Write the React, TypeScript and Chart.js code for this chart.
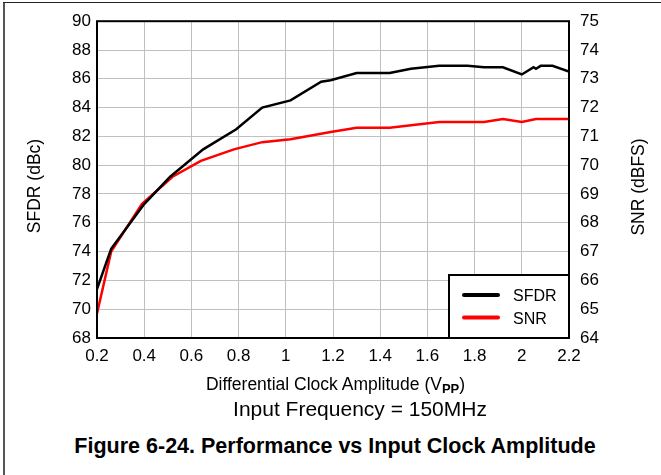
import React, { useEffect, useRef } from "react";
import { Chart, registerables } from "chart.js";

Chart.register(...registerables);

// ---- Data ----
const sfdrAmplitude = [0.2, 0.26, 0.4, 0.51, 0.65, 0.79, 0.9, 1.02, 1.15, 1.19, 1.3, 1.44, 1.53, 1.65, 1.77, 1.84, 1.92, 2.0, 2.05, 2.06, 2.08, 2.13, 2.2];
const sfdrValues = [71.4, 74.2, 77.3, 79.2, 81.1, 82.5, 84.0, 84.5, 85.8, 85.9, 86.4, 86.4, 86.7, 86.9, 86.9, 86.8, 86.8, 86.3, 86.8, 86.7, 86.9, 86.9, 86.5];
const snrAmplitude = [0.2, 0.26, 0.39, 0.52, 0.64, 0.78, 0.9, 1.02, 1.19, 1.3, 1.44, 1.65, 1.84, 1.92, 2.0, 2.06, 2.2];
const snrValues = [64.85, 67.0, 68.65, 69.6, 70.15, 70.55, 70.8, 70.9, 71.15, 71.3, 71.3, 71.5, 71.5, 71.6, 71.5, 71.6, 71.6];

const seriesNames = ["SFDR", "SNR"];
const seriesColors = ["#000000", "#ff0000"];

const xRange = [0.2, 2.2];
const sfdrRange = [68, 90];
const snrRange = [64, 75];

const FONT = "'Liberation Sans', Arial, Helvetica, sans-serif";

const frameLegendPlugin = {
  id: "frameLegend",
  afterDraw(chart: any) {
    const { ctx, chartArea } = chart;
    const { left, top, right, bottom } = chartArea;
    ctx.save();
    ctx.strokeStyle = "#000";
    ctx.lineWidth = 2;
    ctx.strokeRect(left, top, right - left, bottom - top);

    // legend box (bottom-right inside plot)
    const w = 120;
    const h = 63;
    const x0 = right - w;
    const y0 = bottom - h;
    ctx.fillStyle = "#fff";
    ctx.fillRect(x0, y0, w, h);
    ctx.strokeRect(x0, y0, w, h);
    const rows = [20, 42.5];
    ctx.font = `16px ${FONT}`;
    ctx.textBaseline = "middle";
    ctx.textAlign = "left";
    seriesNames.forEach((name, i) => {
      const y = y0 + rows[i];
      ctx.strokeStyle = seriesColors[i];
      ctx.lineWidth = 4;
      ctx.lineCap = "round";
      ctx.beginPath();
      ctx.moveTo(x0 + 15, y);
      ctx.lineTo(x0 + 49, y);
      ctx.stroke();
      ctx.fillStyle = "#000";
      ctx.fillText(name, x0 + 64, y + 2);
    });
    ctx.restore();
  },
};

function App() {
  const canvasRef = useRef<HTMLCanvasElement | null>(null);

  useEffect(() => {
    const canvas = canvasRef.current;
    if (!canvas) return;
    const fmt = (v: any) => String(Math.round(Number(v) * 10) / 10);
    const chart = new Chart(canvas, {
      type: "line",
      data: {
        datasets: [
          {
            label: seriesNames[0],
            data: sfdrAmplitude.map((x, i) => ({ x, y: sfdrValues[i] })),
            borderColor: seriesColors[0],
            backgroundColor: seriesColors[0],
            borderWidth: 2.5,
            pointRadius: 0,
            tension: 0,
            yAxisID: "y",
          },
          {
            label: seriesNames[1],
            data: snrAmplitude.map((x, i) => ({ x, y: snrValues[i] })),
            borderColor: seriesColors[1],
            backgroundColor: seriesColors[1],
            borderWidth: 2.5,
            pointRadius: 0,
            tension: 0,
            yAxisID: "y1",
          },
        ],
      },
      options: {
        responsive: false,
        animation: false,
        devicePixelRatio: 1,
        layout: { padding: { top: 19, left: 0, right: 0, bottom: 0 } },
        plugins: { legend: { display: false }, tooltip: { enabled: false } },
        scales: {
          x: {
            type: "linear",
            min: xRange[0],
            max: xRange[1],
            afterFit: (s: any) => {
              s.height = 62;
            },
            ticks: {
              stepSize: 0.2,
              autoSkip: false,
              maxRotation: 0,
              padding: 8,
              color: "#000",
              font: { family: FONT, size: 17 },
              callback: (v: any) => fmt(v),
            },
            grid: { color: "#c0c0c0", lineWidth: 1, drawTicks: false },
            border: { display: false },
          },
          y: {
            type: "linear",
            position: "left",
            min: sfdrRange[0],
            max: sfdrRange[1],
            afterFit: (s: any) => {
              s.width = 97;
            },
            ticks: {
              stepSize: 2,
              padding: 6,
              color: "#000",
              font: { family: FONT, size: 17 },
            },
            grid: { color: "#c0c0c0", lineWidth: 1, drawTicks: false },
            border: { display: false },
          },
          y1: {
            type: "linear",
            position: "right",
            min: snrRange[0],
            max: snrRange[1],
            afterFit: (s: any) => {
              s.width = 92;
            },
            ticks: {
              stepSize: 1,
              padding: 11,
              color: "#000",
              font: { family: FONT, size: 17 },
            },
            grid: { drawOnChartArea: false, drawTicks: false },
            border: { display: false },
          },
        },
      },
      plugins: [frameLegendPlugin],
    } as any);
    return () => chart.destroy();
  }, []);

  const base: React.CSSProperties = {
    position: "absolute",
    fontFamily: FONT,
    color: "#000",
    whiteSpace: "nowrap",
    textAlign: "center",
  };

  return (
    <div
      style={{
        position: "fixed",
        left: 0,
        top: 0,
        width: 661,
        height: 475,
        background: "#fff",
        overflow: "hidden",
      }}
    >
      <canvas
        ref={canvasRef}
        width={661}
        height={400}
        style={{ position: "absolute", left: 0, top: 0, width: 661, height: 400 }}
      />
      {/* frame lines */}
      <div style={{ position: "absolute", left: 3, top: 2, width: 2, height: 480, background: "#555" }} />
      <div style={{ position: "absolute", left: 3, top: 1.5, width: 660, height: 1.5, background: "#222" }} />

      {/* y-axis titles */}
      <div
        style={{
          ...base,
          left: 34 - 100,
          top: 185.5 - 11,
          width: 200,
          lineHeight: "22px",
          fontSize: 17.5,
          transform: "rotate(-90deg)",
        }}
      >
        SFDR (dBc)
      </div>
      <div
        style={{
          ...base,
          left: 638 - 100,
          top: 186.5 - 11,
          width: 200,
          lineHeight: "22px",
          fontSize: 17.5,
          transform: "rotate(-90deg)",
        }}
      >
        SNR (dBFS)
      </div>

      {/* x-axis title */}
      <div style={{ ...base, left: 335.5 - 200, top: 373, width: 400, lineHeight: "22px", fontSize: 17.5 }}>
        Differential Clock Amplitude (V
        <span style={{ fontWeight: "bold", fontSize: 13, verticalAlign: -3 }}>PP</span>)
      </div>

      <div style={{ ...base, left: 360 - 200, top: 395.5, width: 400, lineHeight: "26px", fontSize: 21 }}>
        Input Frequency = 150MHz
      </div>

      <div
        style={{
          ...base,
          left: 335 - 300,
          top: 432.5,
          width: 600,
          lineHeight: "26px",
          fontSize: 21.5,
          fontWeight: "bold",
        }}
      >
        Figure 6-24. Performance vs Input Clock Amplitude
      </div>
    </div>
  );
}

export default App;
